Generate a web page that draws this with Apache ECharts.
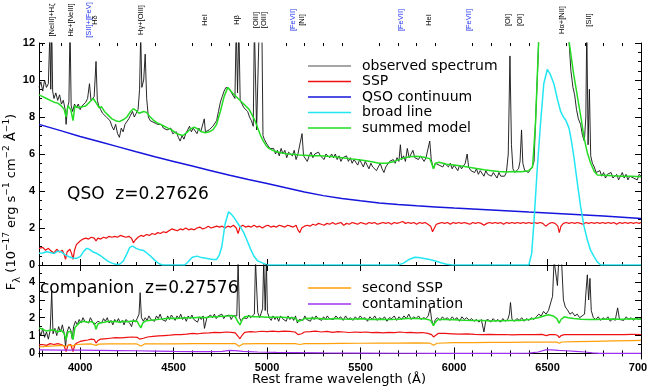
<!DOCTYPE html>
<html>
<head>
<meta charset="utf-8">
<script src="https://cdn.jsdelivr.net/npm/echarts@6/dist/echarts.min.js"></script>
<style>
  html, body { margin: 0; padding: 0; background: #fff; }
  #chart { width: 647px; height: 392px; }
</style>
</head>
<body>
<div id="chart"></div>
<script>
// ---- data: [rest wavelength (A), flux (1e-17 erg/s/cm2/A)] ----

// QSO panel
var obsTop = [[3780,9.6],[3790,9.9],[3800,9.4],[3810,10.0],[3820,9.6],[3830,9.8],[3838,12.5],[3843,9.5],[3848,13],[3853,9.4],[3860,9.0],[3870,9.3],[3880,8.9],[3890,9.2],[3900,8.7],[3910,8.9],[3920,8.4],[3925,7.6],[3932,8.5],[3940,8.8],[3946,13],[3952,8.6],[3960,8.3],[3970,8.7],[3980,8.5],[3990,8.7],[4000,8.4],[4010,8.6],[4020,8.5],[4030,8.8],[4040,9.0],[4050,9.8],[4058,8.9],[4065,8.8],[4075,9.1],[4085,11.0],[4092,8.9],[4100,8.6],[4110,8.4],[4120,8.2],[4130,8.3],[4140,8.0],[4150,8.1],[4160,7.8],[4170,7.5],[4180,7.3],[4190,7.6],[4200,7.1],[4210,6.9],[4220,7.4],[4230,7.2],[4240,7.6],[4250,7.7],[4260,7.9],[4270,8.1],[4280,8.3],[4290,8.0],[4300,8.2],[4310,8.4],[4318,9.5],[4324,12.5],[4330,9.6],[4340,10.0],[4348,11.4],[4356,9.0],[4365,8.0],[4375,7.8],[4385,7.9],[4395,7.7],[4405,7.8],[4415,7.6],[4425,7.5],[4435,7.6],[4445,7.4],[4455,7.5],[4465,7.3],[4475,7.2],[4485,7.4],[4495,7.1],[4505,7.0],[4515,7.2],[4525,6.9],[4535,6.7],[4545,7.0],[4555,6.8],[4565,7.1],[4575,7.3],[4585,7.5],[4595,7.2],[4605,7.4],[4615,7.3],[4625,7.1],[4635,7.4],[4645,7.2],[4655,7.3],[4664,7.9],[4670,7.2],[4680,7.1],[4690,7.3],[4700,7.2],[4710,7.5],[4720,7.4],[4730,7.8],[4740,8.3],[4750,8.8],[4760,9.1],[4770,9.4],[4780,9.6],[4790,9.7],[4800,9.5],[4810,9.3],[4820,9.2],[4828,9.0],[4835,13],[4842,9.3],[4849,13],[4856,8.9],[4866,8.7],[4876,8.5],[4886,8.4],[4896,8.3],[4906,8.0],[4916,7.8],[4926,7.5],[4932,13],[4938,13],[4944,7.3],[4950,7.2],[4958,13],[4965,13],[4972,13],[4978,7.0],[4985,6.8],[4995,6.6],[5005,6.5],[5015,6.3],[5025,6.2],[5035,6.3],[5045,6.0],[5055,6.2],[5065,5.9],[5075,6.3],[5085,6.0],[5095,6.2],[5105,5.8],[5115,6.1],[5125,6.0],[5135,5.9],[5145,6.2],[5155,5.7],[5165,6.0],[5175,6.1],[5187,7.1],[5195,5.9],[5205,6.0],[5215,5.6],[5225,5.9],[5235,6.1],[5245,5.8],[5255,6.0],[5265,5.9],[5275,6.1],[5285,5.9],[5295,6.0],[5305,5.7],[5315,6.0],[5325,5.9],[5335,5.8],[5345,6.0],[5355,5.8],[5365,6.0],[5375,5.7],[5385,5.9],[5395,5.6],[5405,5.8],[5415,5.7],[5425,5.9],[5435,5.6],[5445,5.8],[5455,5.5],[5465,5.7],[5475,5.6],[5485,5.4],[5495,5.7],[5505,5.5],[5515,5.3],[5525,5.6],[5535,5.4],[5545,5.2],[5555,5.5],[5565,5.3],[5575,5.4],[5585,5.1],[5595,5.3],[5605,5.5],[5615,5.2],[5625,5.0],[5635,5.3],[5645,5.4],[5655,5.6],[5665,5.5],[5675,5.7],[5685,5.5],[5695,5.8],[5705,5.6],[5713,6.5],[5720,5.7],[5730,5.9],[5740,5.6],[5750,6.3],[5760,5.8],[5770,6.0],[5780,6.2],[5790,5.8],[5800,5.9],[5810,5.7],[5820,5.9],[5830,5.8],[5840,5.6],[5850,5.8],[5860,5.9],[5870,6.7],[5878,5.7],[5890,5.2],[5900,5.5],[5910,5.6],[5920,5.4],[5930,5.5],[5940,5.3],[5950,5.5],[5960,5.4],[5970,5.3],[5980,5.5],[5990,5.2],[6000,5.4],[6010,5.3],[6020,5.1],[6030,5.4],[6040,5.2],[6050,5.3],[6060,5.5],[6070,6.0],[6078,5.3],[6090,5.1],[6100,5.2],[6110,5.0],[6120,5.2],[6130,4.9],[6140,5.1],[6150,5.0],[6160,4.8],[6170,5.1],[6180,4.9],[6190,5.0],[6200,4.8],[6210,5.0],[6220,4.9],[6230,4.7],[6240,5.0],[6250,4.8],[6260,4.9],[6270,4.8],[6280,5.0],[6290,6.0],[6299,11.3],[6307,6.5],[6315,5.2],[6325,5.0],[6335,5.1],[6345,5.2],[6353,5.6],[6361,7.3],[6368,5.5],[6378,5.1],[6388,5.1],[6398,5.0],[6408,5.1],[6418,5.3],[6428,5.6],[6436,7.8],[6445,10.0],[6454,12.5],[6470,13],[6500,13],[6550,13],[6600,13],[6615,12.1],[6625,10.5],[6636,9.6],[6645,9.2],[6655,8.4],[6665,7.9],[6677,7.6],[6687,7.0],[6697,6.7],[6705,8.0],[6710,13],[6717,6.5],[6724,9.5],[6731,5.9],[6740,5.5],[6750,5.3],[6760,5.0],[6770,4.9],[6780,5.1],[6790,4.8],[6800,5.0],[6810,4.7],[6820,4.9],[6830,4.8],[6840,5.0],[6850,4.7],[6860,4.8],[6870,4.9],[6880,4.6],[6890,4.8],[6900,5.0],[6910,4.7],[6920,4.9],[6930,4.6],[6940,4.8],[6950,4.9],[6960,4.7],[6970,4.8],[6980,4.6],[6990,4.9],[7000,4.8]];

var sspTop = [[3780,0.9],[3800,0.95],[3815,0.8],[3830,0.9],[3845,0.75],[3860,0.65],[3875,0.85],[3890,0.7],[3905,0.8],[3915,0.55],[3922,0.3],[3930,0.7],[3945,0.85],[3955,0.6],[3962,0.3],[3970,0.8],[3980,1.1],[3990,1.2],[4000,1.3],[4015,1.4],[4030,1.45],[4045,1.4],[4060,1.5],[4075,1.45],[4085,1.3],[4095,1.45],[4110,1.4],[4125,1.5],[4140,1.45],[4155,1.55],[4170,1.5],[4185,1.55],[4200,1.5],[4215,1.6],[4230,1.55],[4245,1.5],[4260,1.55],[4275,1.45],[4285,1.2],[4295,1.35],[4310,1.5],[4325,1.6],[4340,1.55],[4355,1.65],[4370,1.6],[4385,1.7],[4400,1.65],[4415,1.75],[4430,1.7],[4445,1.8],[4460,1.75],[4475,1.85],[4490,1.95],[4505,1.9],[4520,1.85],[4535,1.95],[4550,1.9],[4565,2.0],[4580,1.9],[4595,1.95],[4610,1.9],[4625,2.0],[4640,2.05],[4655,1.95],[4670,2.0],[4685,2.1],[4700,2.0],[4715,2.05],[4730,2.1],[4745,2.05],[4760,2.1],[4775,2.0],[4790,2.1],[4805,2.05],[4820,2.15],[4835,2.0],[4845,1.7],[4855,2.05],[4870,2.15],[4885,2.05],[4900,2.1],[4915,2.05],[4930,2.15],[4945,2.05],[4960,2.1],[4975,2.0],[4990,2.1],[5005,2.15],[5020,2.05],[5035,2.1],[5050,2.05],[5065,2.15],[5080,2.1],[5095,2.05],[5110,2.15],[5125,2.1],[5140,2.05],[5155,2.15],[5165,1.9],[5175,1.75],[5185,2.0],[5200,2.1],[5215,2.15],[5230,2.1],[5245,2.2],[5260,2.15],[5275,2.25],[5290,2.2],[5305,2.15],[5320,2.25],[5335,2.2],[5350,2.3],[5365,2.2],[5380,2.25],[5395,2.3],[5410,2.15],[5425,2.25],[5440,2.2],[5455,2.3],[5470,2.25],[5485,2.2],[5500,2.3],[5515,2.25],[5530,2.2],[5545,2.3],[5560,2.25],[5575,2.3],[5590,2.2],[5605,2.25],[5620,2.3],[5635,2.25],[5650,2.3],[5665,2.2],[5680,2.3],[5695,2.25],[5710,2.3],[5725,2.35],[5740,2.25],[5755,2.3],[5770,2.25],[5785,2.3],[5800,2.2],[5815,2.3],[5830,2.25],[5845,2.3],[5860,2.2],[5875,2.1],[5885,1.8],[5895,1.85],[5905,2.2],[5920,2.25],[5935,2.3],[5950,2.25],[5965,2.3],[5980,2.2],[5995,2.3],[6010,2.25],[6025,2.3],[6040,2.25],[6055,2.3],[6070,2.25],[6085,2.2],[6100,2.3],[6115,2.25],[6130,2.3],[6145,2.25],[6160,2.15],[6175,2.25],[6190,2.3],[6205,2.25],[6220,2.3],[6235,2.25],[6250,2.3],[6265,2.2],[6280,2.3],[6295,2.25],[6310,2.3],[6325,2.25],[6340,2.3],[6355,2.25],[6370,2.3],[6385,2.25],[6400,2.3],[6415,2.25],[6430,2.3],[6445,2.25],[6460,2.3],[6475,2.25],[6490,2.1],[6500,2.05],[6510,2.25],[6525,2.3],[6540,2.25],[6555,2.1],[6563,1.75],[6572,2.1],[6585,2.25],[6600,2.3],[6615,2.25],[6630,2.3],[6645,2.25],[6660,2.3],[6675,2.25],[6690,2.2],[6705,2.3],[6720,2.25],[6735,2.3],[6750,2.25],[6765,2.3],[6780,2.25],[6795,2.3],[6810,2.25],[6825,2.3],[6840,2.25],[6855,2.3],[6870,2.2],[6885,2.3],[6900,2.25],[6915,2.3],[6930,2.25],[6945,2.3],[6960,2.25],[6975,2.3],[6990,2.25],[7000,2.3]];

var qsoTop = [[3780,7.6],[3900,7.25],[4000,6.95],[4100,6.68],[4200,6.4],[4300,6.12],[4400,5.85],[4500,5.6],[4600,5.35],[4700,5.1],[4800,4.85],[4900,4.62],[5000,4.4],[5100,4.17],[5200,3.95],[5300,3.75],[5400,3.6],[5500,3.47],[5600,3.35],[5700,3.27],[5800,3.2],[5900,3.14],[6000,3.08],[6200,2.97],[6400,2.86],[6600,2.76],[6800,2.65],[7000,2.52]];

var broadTop = [[3780,0.63],[3800,0.65],[3820,0.72],[3840,0.68],[3860,0.62],[3880,0.75],[3900,0.7],[3920,0.55],[3940,0.45],[3960,0.38],[3980,0.36],[4000,0.45],[4020,0.75],[4035,0.9],[4050,0.85],[4070,0.7],[4090,0.62],[4110,0.5],[4130,0.35],[4150,0.2],[4170,0.1],[4190,0.04],[4210,0.03],[4230,0.2],[4250,0.6],[4265,0.95],[4280,1.02],[4300,0.9],[4320,0.82],[4340,0.78],[4360,0.62],[4380,0.45],[4400,0.25],[4420,0.08],[4440,0.0],[4560,0.0],[4580,0.2],[4600,0.42],[4625,0.48],[4650,0.4],[4680,0.35],[4710,0.3],[4730,0.3],[4745,0.55],[4758,1.0],[4775,2.2],[4794,2.88],[4808,2.75],[4821,2.6],[4840,2.3],[4856,2.07],[4875,1.75],[4892,1.35],[4910,0.9],[4928,0.5],[4950,0.22],[4981,0.09],[5000,0.0],[5700,0.0],[5730,0.1],[5760,0.3],[5790,0.42],[5810,0.4],[5840,0.35],[5870,0.3],[5900,0.22],[5930,0.12],[5960,0.04],[5990,0.0],[6400,0.0],[6415,0.6],[6427,2.25],[6445,5.2],[6463,7.7],[6480,9.8],[6499,10.58],[6515,10.3],[6534,9.8],[6552,9.0],[6570,8.3],[6585,8.0],[6597,7.84],[6607,7.6],[6615,7.4],[6628,6.7],[6641,5.85],[6660,4.4],[6677,3.15],[6695,2.1],[6713,1.35],[6730,0.8],[6749,0.45],[6765,0.18],[6784,0.0],[7000,0.0]];

var sumTop = [[3780,9.2],[3800,9.1],[3820,9.0],[3840,8.9],[3860,8.8],[3880,8.75],[3900,8.6],[3915,8.4],[3925,8.0],[3935,8.6],[3950,8.4],[3962,7.8],[3972,8.6],[3990,8.5],[4010,8.55],[4030,8.6],[4050,8.8],[4070,9.0],[4080,8.95],[4090,8.7],[4102,8.5],[4115,8.55],[4130,8.3],[4150,8.1],[4170,7.9],[4190,7.8],[4210,7.75],[4230,7.85],[4250,8.0],[4270,8.3],[4285,8.45],[4300,8.35],[4315,8.2],[4325,8.1],[4340,8.3],[4355,8.25],[4370,8.05],[4390,7.85],[4410,7.7],[4430,7.6],[4450,7.5],[4470,7.4],[4490,7.3],[4510,7.15],[4530,7.05],[4550,7.0],[4570,7.15],[4590,7.35],[4610,7.45],[4630,7.35],[4650,7.2],[4670,7.15],[4690,7.2],[4710,7.3],[4730,7.6],[4750,8.3],[4770,9.1],[4790,9.6],[4800,9.6],[4815,9.3],[4830,9.15],[4845,9.0],[4860,8.85],[4875,8.7],[4890,8.55],[4905,8.4],[4920,8.1],[4935,7.8],[4950,7.4],[4965,7.0],[4980,6.7],[4995,6.45],[5010,6.3],[5030,6.2],[5050,6.12],[5080,6.05],[5110,6.0],[5140,5.98],[5170,5.95],[5200,5.93],[5240,5.9],[5280,5.9],[5320,5.88],[5360,5.85],[5400,5.8],[5440,5.75],[5480,5.7],[5520,5.65],[5560,5.58],[5600,5.5],[5640,5.5],[5680,5.6],[5720,5.75],[5760,5.85],[5800,5.88],[5840,5.82],[5870,5.75],[5880,5.5],[5890,5.2],[5900,5.5],[5920,5.55],[5960,5.45],[6000,5.4],[6040,5.35],[6080,5.28],[6120,5.22],[6160,5.15],[6200,5.1],[6240,5.05],[6280,5.03],[6320,5.05],[6360,5.04],[6400,5.1],[6420,5.3],[6436,7.7],[6454,12.5],[6480,13],[6550,13],[6600,12.8],[6615,12.1],[6640,10.3],[6660,9.1],[6680,7.9],[6695,6.9],[6712,6.1],[6731,5.5],[6750,5.05],[6767,4.86],[6800,4.85],[6850,4.82],[6900,4.8],[6950,4.8],[7000,4.77]];

// companion panel
var obsBot = [[3780,1.3],[3790,1.0],[3800,1.4],[3810,0.9],[3820,1.2],[3830,0.8],[3840,1.3],[3848,3.5],[3855,1.1],[3865,1.4],[3875,1.0],[3885,1.5],[3895,1.2],[3905,1.6],[3915,1.1],[3922,0.4],[3930,1.2],[3940,1.5],[3950,1.3],[3958,0.8],[3965,1.5],[3975,1.8],[3985,1.6],[3995,1.9],[4005,1.7],[4015,2.0],[4025,1.8],[4035,1.9],[4045,1.7],[4055,2.0],[4065,1.8],[4075,1.6],[4085,1.5],[4095,1.8],[4105,1.9],[4115,1.7],[4125,1.95],[4135,1.8],[4145,2.0],[4155,1.7],[4165,1.85],[4175,1.6],[4185,1.9],[4195,1.75],[4205,1.95],[4215,1.7],[4225,1.85],[4235,1.6],[4245,1.9],[4255,1.8],[4265,1.7],[4275,1.5],[4285,1.9],[4295,1.75],[4305,1.95],[4315,2.2],[4321,3.4],[4328,2.0],[4338,1.8],[4348,2.0],[4358,1.85],[4368,2.1],[4378,1.9],[4388,2.0],[4398,1.8],[4408,2.1],[4418,1.95],[4428,2.2],[4438,1.9],[4448,2.0],[4458,1.8],[4468,2.1],[4478,1.9],[4488,2.15],[4498,2.0],[4508,1.85],[4518,2.1],[4528,1.95],[4538,2.2],[4548,1.9],[4558,2.05],[4568,1.8],[4578,2.1],[4588,1.95],[4598,2.15],[4608,1.9],[4618,2.0],[4628,1.75],[4638,2.05],[4648,1.9],[4658,2.1],[4665,1.4],[4678,2.0],[4688,1.9],[4698,2.15],[4708,2.0],[4718,2.2],[4728,1.95],[4738,2.1],[4748,2.0],[4758,2.2],[4768,1.95],[4778,2.1],[4788,2.0],[4798,2.15],[4808,1.9],[4818,2.1],[4828,2.0],[4838,2.1],[4845,5.2],[4852,2.0],[4862,1.8],[4872,2.0],[4882,2.1],[4892,1.95],[4902,2.15],[4912,2.0],[4922,2.1],[4932,2.2],[4938,5.2],[4944,5.2],[4950,2.3],[4960,2.0],[4970,2.1],[4976,2.5],[4982,5.2],[4990,2.4],[4996,5.2],[5002,2.3],[5012,2.0],[5022,1.85],[5032,2.1],[5042,1.9],[5052,2.05],[5062,1.8],[5072,2.1],[5082,1.95],[5092,2.0],[5102,1.8],[5112,2.1],[5122,1.9],[5132,2.05],[5142,1.85],[5152,2.1],[5162,1.7],[5172,1.9],[5182,2.0],[5192,1.85],[5202,2.1],[5212,1.9],[5222,2.0],[5232,1.8],[5242,2.05],[5252,1.9],[5262,2.1],[5272,1.95],[5282,2.0],[5292,1.85],[5302,2.05],[5312,1.9],[5322,2.1],[5332,1.95],[5342,2.0],[5355,1.9],[5368,2.1],[5381,1.95],[5394,2.05],[5407,1.85],[5420,2.1],[5433,1.9],[5446,2.0],[5459,1.85],[5472,2.05],[5485,1.9],[5498,2.1],[5511,1.95],[5524,2.0],[5537,1.8],[5550,2.05],[5563,1.9],[5576,2.1],[5589,1.85],[5602,2.0],[5615,1.9],[5628,2.05],[5641,1.8],[5654,2.0],[5667,1.95],[5680,2.1],[5693,1.85],[5706,2.05],[5719,1.9],[5732,2.1],[5745,1.95],[5758,2.2],[5771,1.9],[5784,2.05],[5797,1.95],[5810,2.1],[5823,1.9],[5836,2.0],[5849,1.95],[5862,2.1],[5872,2.55],[5880,1.9],[5890,1.55],[5900,1.9],[5912,2.0],[5925,1.85],[5938,2.05],[5951,1.9],[5964,2.0],[5977,1.85],[5990,2.05],[6003,1.9],[6016,2.0],[6029,1.8],[6042,2.05],[6055,1.9],[6068,2.0],[6081,1.85],[6094,1.95],[6107,1.8],[6120,1.9],[6133,1.75],[6146,1.9],[6160,1.2],[6170,1.85],[6183,1.9],[6196,1.75],[6209,1.95],[6222,1.8],[6235,1.9],[6248,1.75],[6261,1.95],[6274,1.8],[6287,1.9],[6296,2.2],[6302,2.85],[6310,1.9],[6323,1.8],[6336,1.95],[6349,1.85],[6362,2.0],[6375,1.8],[6388,1.95],[6401,1.85],[6414,2.0],[6427,1.9],[6440,2.05],[6453,2.2],[6466,2.1],[6479,2.35],[6492,2.2],[6505,2.4],[6515,2.5],[6527,3.2],[6535,5.2],[6545,5.2],[6553,3.8],[6560,5.2],[6575,5.2],[6585,3.0],[6595,2.6],[6606,2.45],[6620,2.2],[6633,2.3],[6646,2.1],[6659,2.2],[6672,2.0],[6685,2.1],[6698,2.2],[6706,3.5],[6713,4.4],[6720,3.0],[6727,4.2],[6734,2.4],[6745,2.0],[6758,1.9],[6771,2.05],[6784,1.85],[6797,2.0],[6810,1.9],[6823,2.05],[6836,1.8],[6849,1.95],[6862,1.85],[6875,2.55],[6885,1.9],[6895,2.0],[6908,1.85],[6921,2.05],[6934,1.9],[6947,2.0],[6960,1.85],[6973,2.0],[6986,1.9],[7000,1.95]];

var sumBot = [[3780,1.43],[3800,1.35],[3820,1.25],[3840,1.3],[3860,1.32],[3880,1.2],[3900,1.3],[3915,1.1],[3925,0.77],[3935,1.2],[3950,1.25],[3962,0.77],[3972,1.45],[3985,1.6],[4000,1.75],[4020,1.8],[4040,1.75],[4060,1.78],[4075,1.7],[4085,1.35],[4095,1.65],[4110,1.72],[4130,1.75],[4150,1.8],[4170,1.77],[4190,1.8],[4210,1.75],[4230,1.8],[4250,1.78],[4270,1.8],[4290,1.82],[4305,1.8],[4315,1.6],[4325,1.43],[4335,1.7],[4350,1.82],[4370,1.85],[4400,1.88],[4430,1.92],[4460,1.95],[4490,1.97],[4520,1.96],[4550,1.98],[4580,2.0],[4610,2.0],[4640,2.02],[4670,2.0],[4700,2.05],[4730,2.05],[4760,2.08],[4790,2.1],[4810,2.12],[4830,2.05],[4845,1.75],[4855,1.6],[4865,1.85],[4880,2.05],[4900,2.08],[4930,2.05],[4960,2.05],[5000,2.03],[5040,2.02],[5080,2.02],[5120,2.0],[5150,1.98],[5165,1.8],[5175,1.7],[5185,1.85],[5200,1.95],[5240,1.97],[5280,1.95],[5320,1.92],[5360,1.95],[5400,1.93],[5450,1.92],[5500,1.94],[5550,1.9],[5600,1.92],[5650,1.9],[5700,1.92],[5750,1.95],[5800,1.95],[5850,1.93],[5875,1.85],[5890,1.56],[5900,1.75],[5915,1.9],[5950,1.9],[6000,1.88],[6050,1.86],[6100,1.85],[6150,1.84],[6200,1.82],[6250,1.83],[6300,1.84],[6350,1.85],[6400,1.9],[6450,2.0],[6480,2.1],[6505,2.17],[6530,2.1],[6550,1.95],[6562,1.7],[6572,1.9],[6590,2.05],[6610,2.0],[6640,1.95],[6680,1.92],[6720,1.9],[6760,1.9],[6800,1.92],[6850,1.93],[6900,1.92],[6950,1.94],[7000,1.92]];

var sspBot = [[3780,0.48],[3800,0.5],[3820,0.45],[3840,0.55],[3860,0.5],[3880,0.55],[3900,0.5],[3915,0.4],[3925,0.11],[3935,0.45],[3950,0.5],[3962,0.1],[3972,0.5],[3985,0.6],[4000,0.67],[4020,0.72],[4040,0.75],[4060,0.8],[4075,0.78],[4085,0.58],[4095,0.72],[4110,0.8],[4130,0.82],[4160,0.85],[4190,0.88],[4220,0.87],[4250,0.9],[4280,0.92],[4305,0.9],[4318,0.8],[4326,0.7],[4338,0.85],[4360,0.92],[4390,0.95],[4420,0.98],[4450,1.0],[4480,1.02],[4510,1.05],[4540,1.05],[4570,1.08],[4600,1.12],[4630,1.1],[4660,1.14],[4690,1.15],[4720,1.18],[4750,1.16],[4780,1.2],[4810,1.18],[4830,1.15],[4845,0.95],[4855,0.82],[4865,1.0],[4880,1.18],[4910,1.22],[4940,1.2],[4970,1.24],[5000,1.22],[5030,1.25],[5060,1.22],[5090,1.25],[5120,1.23],[5150,1.2],[5165,1.05],[5175,0.95],[5185,1.1],[5200,1.2],[5230,1.22],[5260,1.25],[5290,1.2],[5320,1.23],[5350,1.18],[5380,1.22],[5410,1.2],[5440,1.17],[5470,1.2],[5500,1.18],[5530,1.2],[5560,1.16],[5590,1.18],[5620,1.15],[5650,1.18],[5680,1.16],[5710,1.2],[5740,1.17],[5770,1.18],[5800,1.15],[5830,1.17],[5860,1.12],[5880,1.05],[5890,0.92],[5900,1.0],[5915,1.12],[5950,1.12],[5990,1.1],[6030,1.08],[6070,1.1],[6110,1.07],[6150,1.05],[6190,1.07],[6230,1.05],[6270,1.06],[6310,1.04],[6350,1.05],[6390,1.06],[6430,1.05],[6470,1.07],[6495,1.0],[6510,1.05],[6540,1.06],[6555,1.0],[6563,0.88],[6572,1.0],[6590,1.05],[6630,1.06],[6670,1.05],[6710,1.06],[6750,1.05],[6790,1.06],[6830,1.05],[6870,1.06],[6910,1.05],[6950,1.07],[7000,1.06]];

var ssp2Bot = [[3780,0.36],[3820,0.4],[3860,0.42],[3900,0.45],[3925,0.4],[3940,0.47],[3962,0.42],[3980,0.5],[4020,0.52],[4060,0.53],[4085,0.45],[4100,0.52],[4150,0.53],[4200,0.53],[4250,0.54],[4300,0.54],[4325,0.42],[4345,0.53],[4400,0.54],[4500,0.54],[4600,0.55],[4700,0.55],[4830,0.55],[4850,0.4],[4870,0.53],[4950,0.55],[5050,0.55],[5150,0.55],[5175,0.5],[5200,0.55],[5300,0.55],[5400,0.56],[5500,0.57],[5600,0.58],[5700,0.58],[5800,0.59],[5870,0.58],[5890,0.46],[5910,0.57],[6000,0.6],[6100,0.61],[6200,0.62],[6300,0.62],[6400,0.63],[6500,0.64],[6550,0.63],[6563,0.57],[6575,0.64],[6650,0.66],[6750,0.68],[6850,0.7],[6950,0.72],[7000,0.73]];

var contBot = [[3780,0.2],[3900,0.19],[4000,0.18],[4100,0.17],[4200,0.16],[4300,0.15],[4400,0.13],[4500,0.11],[4600,0.1],[4700,0.1],[4760,0.12],[4800,0.17],[4830,0.16],[4870,0.12],[4950,0.08],[5050,0.06],[5150,0.05],[5300,0.03],[5500,0.02],[5700,0.01],[5900,0.0],[6100,0.0],[6300,0.0],[6400,0.02],[6450,0.08],[6490,0.2],[6520,0.2],[6560,0.17],[6600,0.15],[6650,0.12],[6700,0.08],[6740,0.03],[6780,0.0],[7000,0.0]];

// line identifications along the top
var lineNames = ['[NeIII]+H\u03b6', 'H\u03b5+[NeIII]', '[SII]+[FeV]', 'H\u03b4', 'H\u03b3+[OIII]', 'HeI', 'H\u03b2', '[OIII]', '[OIII]', '[FeVII]', '[NI]', '[FeVII]', 'HeI', '[FeVII]', '[OI]', '[OI]', 'H\u03b1+[NII]', '[SII]'];
var lineWaves = [3850, 3951, 4048, 4080, 4326, 4669, 4841, 4942, 4985, 5140, 5189, 5714, 5864, 6078, 6287, 6351, 6576, 6720];
var blueNames = ['[SII]+[FeV]', '[FeVII]'];

// ticks
var xMajor = [4000, 4500, 5000, 5500, 6000, 6500, 7000];
var xMinor = [3800, 3900, 4100, 4200, 4300, 4400, 4600, 4700, 4800, 4900, 5100, 5200, 5300, 5400, 5600, 5700, 5800, 5900, 6100, 6200, 6300, 6400, 6600, 6700, 6800, 6900];
var botYMajor = [0, 1, 2, 3, 4];
var botYMinor = [0.5, 1.5, 2.5, 3.5, 4.5];

var chart = echarts.init(document.getElementById('chart'));

var FONT = "'DejaVu Sans', sans-serif";
var NARROW = "'Liberation Sans Narrow', 'Liberation Sans', sans-serif";
var tickLabel = { fontFamily: NARROW, fontSize: 11, fontWeight: 'bold', color: '#000', formatter: function (v) { return '' + v } };

function xAx(grid, pos, ticks, len, frame, labels) {
  return {
    type: 'value', gridIndex: grid, position: pos, min: 3780, max: 7000,
    axisLine: { show: frame, lineStyle: { color: '#000', width: 1 } },
    axisTick: { show: true, inside: true, length: len, customValues: ticks, lineStyle: { color: '#000', width: 1 } },
    axisLabel: labels ? Object.assign({ show: true, margin: 5, customValues: xMajor }, tickLabel) : { show: false },
    splitLine: { show: false }
  }
}

function yTop(pos, labels) {
  return {
    type: 'value', gridIndex: 0, position: pos, min: 0, max: 12, interval: 2,
    axisLine: { show: true, lineStyle: { color: '#000', width: 1 } },
    axisTick: { show: true, inside: true, length: 6, lineStyle: { color: '#000' } },
    minorTick: { show: true, splitNumber: 4, length: 3, lineStyle: { color: '#000' } },
    axisLabel: labels ? Object.assign({ show: true, margin: 4 }, tickLabel) : { show: false },
    splitLine: { show: false }
  }
}

function yBot(pos, ticks, len, frame, labels) {
  return {
    type: 'value', gridIndex: 1, position: pos, min: -0.2, max: 4.95,
    axisLine: { show: frame, lineStyle: { color: '#000', width: 1 } },
    axisTick: { show: true, inside: true, length: len, customValues: ticks, lineStyle: { color: '#000' } },
    axisLabel: labels ? Object.assign({ show: true, margin: 4, customValues: botYMajor }, tickLabel) : { show: false },
    splitLine: { show: false }
  }
}

function line(name, data, color, width, xi, yi) {
  return {
    name: name, type: 'line', data: data, xAxisIndex: xi, yAxisIndex: yi,
    symbol: 'none', showSymbol: false, silent: true, clip: true,
    lineStyle: { color: color, width: width }, itemStyle: { color: color }
  }
}

var C_OBS = '#111', C_SSP = '#ee1111', C_QSO = '#1515dd', C_BROAD = '#22e6f2', C_SUM = '#22dd22', C_SSP2 = '#ffa00a', C_CONT = '#a030f0';

// legend: thin bars instead of the default line+dot icon
var legendBase = {
  orient: 'vertical', left: 303, icon: 'rect', itemWidth: 43, itemHeight: 1.5,
  selectedMode: false,
  textStyle: { fontFamily: FONT, fontSize: 14, lineHeight: 15, color: '#000', padding: [0, 0, 0, 6] }
};

var option = {
  animation: false,
  backgroundColor: '#fff',
  // fixed plot boxes: no automatic shrinking for the clipped 7000 label
  grid: [
    { left: 39, right: 6, top: 43, height: 222, outerBoundsMode: 'none', containLabel: false },
    { left: 39, right: 6, top: 265, height: 92, outerBoundsMode: 'none', containLabel: false }
  ],
  xAxis: [
    xAx(0, 'bottom', xMajor, 6, true, false),
    xAx(0, 'top', xMajor, 6, true, false),
    xAx(0, 'bottom', xMinor, 3, false, false),
    xAx(0, 'top', xMinor, 3, false, false),
    xAx(1, 'bottom', xMajor, 6, true, true),
    xAx(1, 'top', xMajor, 6, true, false),
    xAx(1, 'bottom', xMinor, 3, false, false),
    xAx(1, 'top', xMinor, 3, false, false)
  ],
  yAxis: [
    yTop('left', true),
    yTop('right', false),
    yBot('left', botYMajor, 6, true, true),
    yBot('right', botYMajor, 6, true, false),
    yBot('left', botYMinor, 3, false, false),
    yBot('right', botYMinor, 3, false, false)
  ],
  legend: [
    Object.assign({}, legendBase, {
      top: 53.5, itemGap: 0.5,
      data: [{ name: 'observed spectrum', itemStyle: { color: '#888' } }, 'SSP', 'QSO continuum', 'broad line', 'summed model']
    }),
    Object.assign({}, legendBase, {
      top: 275.5, itemGap: 1,
      data: ['second SSP', 'contamination']
    })
  ],
  series: [
    line('observed spectrum', obsTop, C_OBS, 0.9, 0, 0),
    line('SSP', sspTop, C_SSP, 1.2, 0, 0),
    line('QSO continuum', qsoTop, C_QSO, 1.5, 0, 0),
    line('broad line', broadTop, C_BROAD, 1.5, 0, 0),
    line('summed model', sumTop, C_SUM, 1.5, 0, 0),
    line('observed spectrum', obsBot, C_OBS, 0.9, 4, 2),
    line('summed model', sumBot, C_SUM, 1.5, 4, 2),
    line('SSP', sspBot, C_SSP, 1.2, 4, 2),
    line('second SSP', ssp2Bot, C_SSP2, 1.2, 4, 2),
    line('contamination', contBot, C_CONT, 1.2, 4, 2)
  ]
};

chart.setOption(option);

// texts: line ids placed through the x scale, panel labels, axis titles
var g = [];
for (var i = 0; i < lineNames.length; i++) {
  var px = chart.convertToPixel({ xAxisIndex: 0 }, lineWaves[i]);
  var blue = blueNames.indexOf(lineNames[i]) >= 0;
  g.push({
    type: 'text', x: px, y: 20, rotation: Math.PI / 2, silent: true,
    style: {
      text: lineNames[i], fill: blue ? '#2233ee' : '#000',
      font: '7.5px ' + NARROW,
      align: 'center', verticalAlign: 'middle', textAlign: 'center', textVerticalAlign: 'middle'
    }
  });
}

g.push({
  type: 'text', x: 67, y: 195, silent: true,
  style: { text: 'QSO  z=0.27626', fill: '#000', font: '17px ' + FONT, verticalAlign: 'middle', textVerticalAlign: 'middle' }
});
g.push({
  type: 'text', x: 40, y: 289, silent: true,
  style: { text: 'companion  z=0.27576', fill: '#000', font: '17px ' + FONT, verticalAlign: 'middle', textVerticalAlign: 'middle' }
});
g.push({
  type: 'text', x: 339, y: 380, silent: true,
  style: { text: 'Rest frame wavelength (\u00c5)', fill: '#000', font: '13px ' + FONT, align: 'center', verticalAlign: 'middle', textAlign: 'center', textVerticalAlign: 'middle' }
});
g.push({
  type: 'text', x: 12, y: 202, rotation: Math.PI / 2, silent: true,
  style: {
    text: 'F{sub|\u03bb} (10{sup|\u221217} erg s{sup|\u22121} cm{sup|\u22122} \u00c5{sup|\u22121})',
    fill: '#000', fontFamily: FONT, fontSize: 13, lineHeight: 20,
    align: 'center', verticalAlign: 'middle', textAlign: 'center', textVerticalAlign: 'middle',
    rich: {
      sup: { fontFamily: FONT, fontSize: 9, lineHeight: 20, verticalAlign: 'top', fill: '#000' },
      sub: { fontFamily: FONT, fontSize: 10, lineHeight: 20, verticalAlign: 'bottom', fill: '#000' }
    }
  }
});

chart.setOption({ graphic: g });
</script>
</body>
</html>
